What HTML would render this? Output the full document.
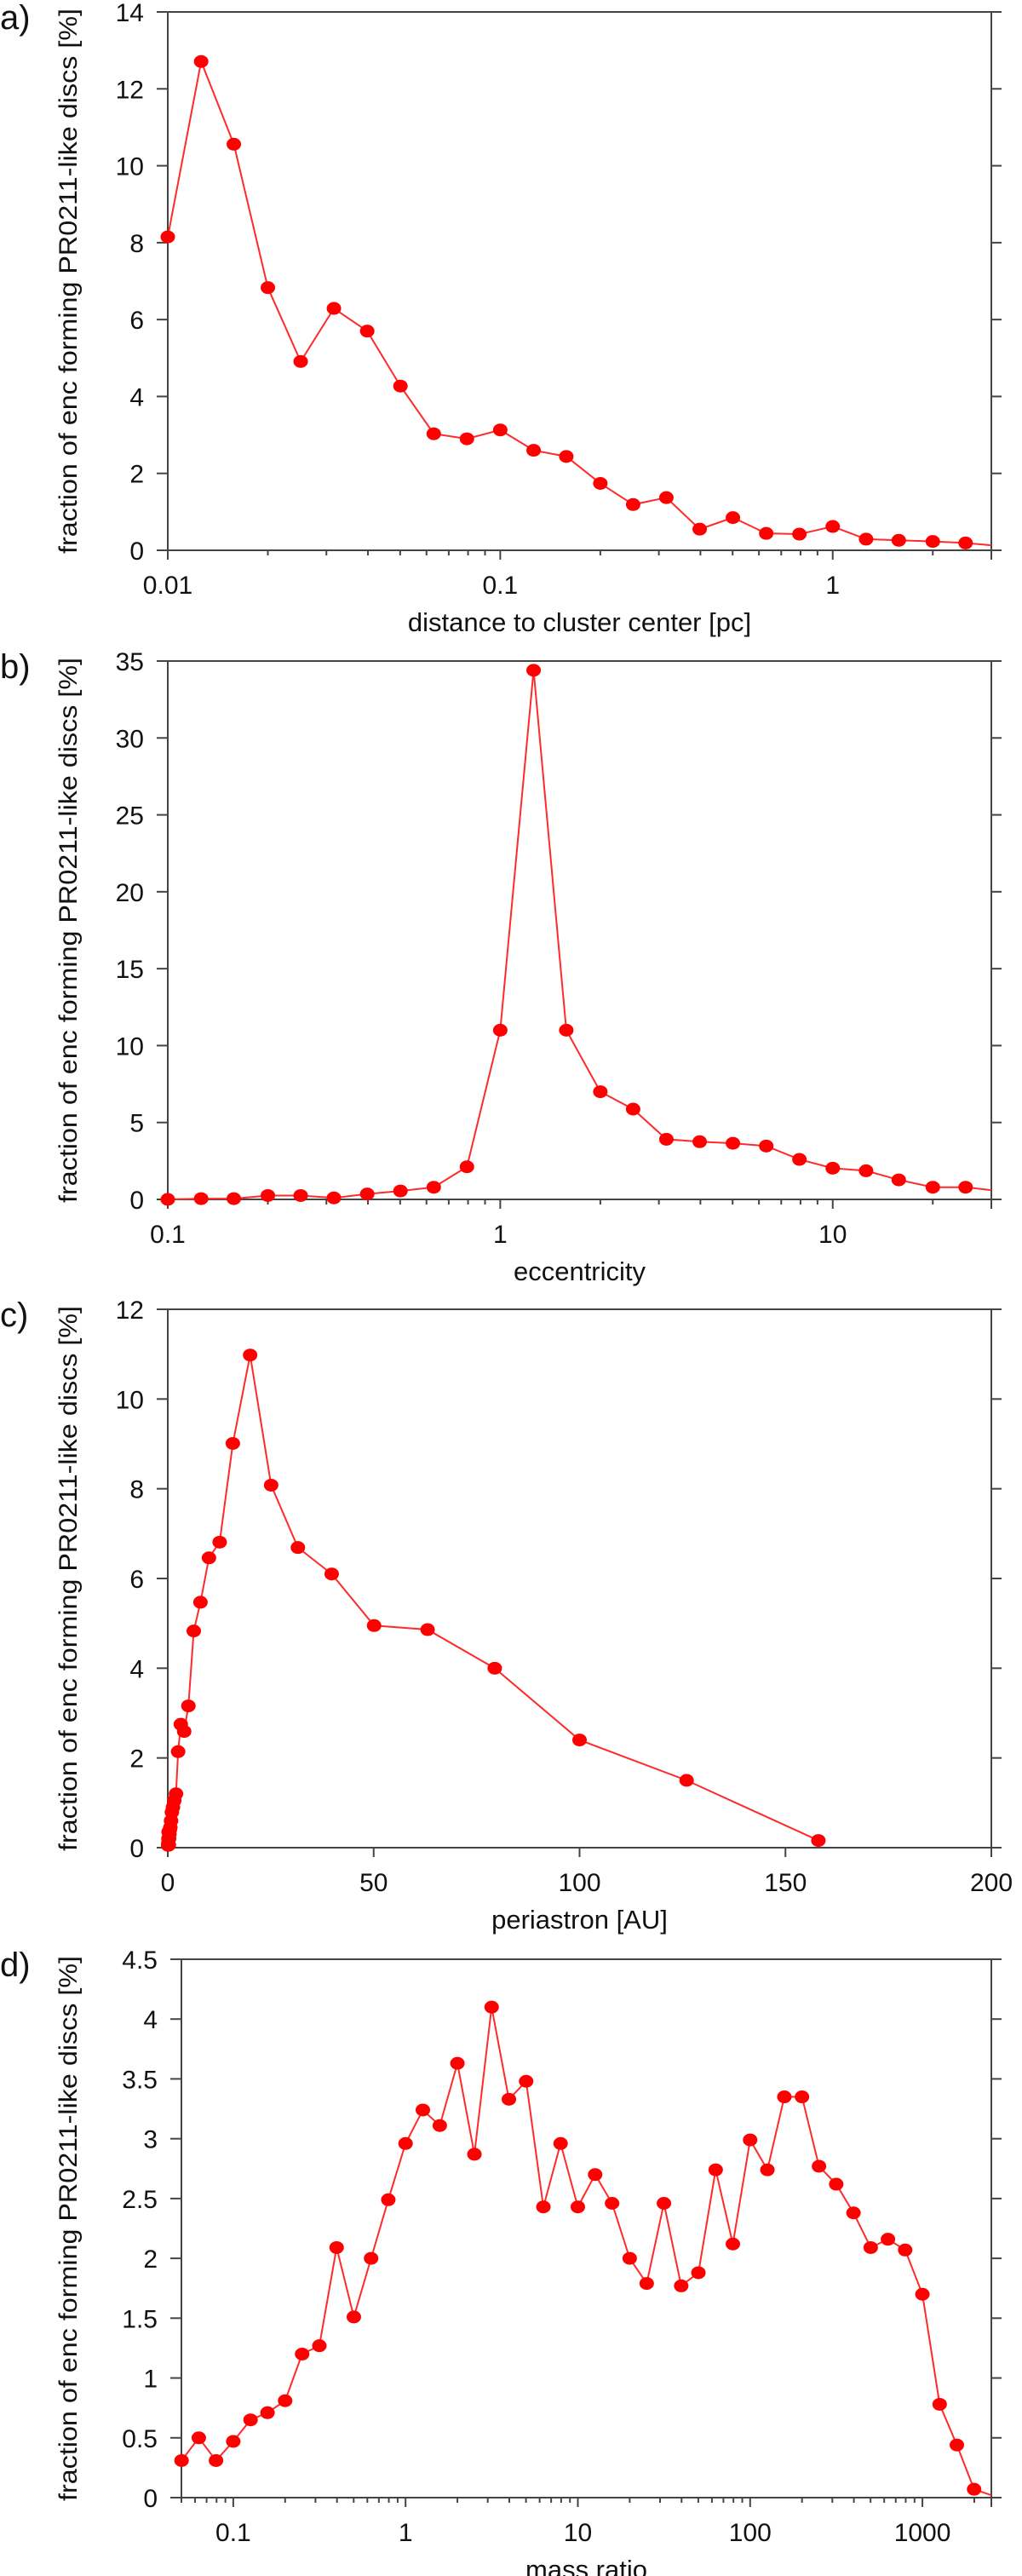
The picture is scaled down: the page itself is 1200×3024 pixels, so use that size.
<!DOCTYPE html>
<html><head><meta charset="utf-8"><style>
html,body{margin:0;padding:0;background:#fff;}
svg{display:block;font-family:"Liberation Sans",Arial,sans-serif;}
</style></head><body>
<svg id="fig" width="1200" height="3024" viewBox="0 0 1200 3024" xmlns="http://www.w3.org/2000/svg"></svg>
<script>
// Panel a: distance to cluster center
const aX = [0.01,0.0126,0.0158,0.02,0.0251,0.0316,0.0398,0.0501,0.0631,0.0794,0.1,0.126,0.158,0.2,0.251,0.316,0.398,0.501,0.631,0.794,1.0,1.26,1.58,2.0,2.51,3.0];
const aY = [8.15,12.71,10.56,6.83,4.91,6.29,5.70,4.27,3.03,2.90,3.13,2.60,2.44,1.74,1.19,1.37,0.55,0.85,0.44,0.42,0.62,0.29,0.26,0.23,0.19,0.13];
const aYTicks = [0,2,4,6,8,10,12,14];
const aXTicks = [0.01,0.1,1];
const aXTickLabels = ["0.01","0.1","1"];
// Panel b: eccentricity
const bX = [0.1,0.126,0.158,0.2,0.251,0.316,0.398,0.501,0.631,0.794,1.0,1.26,1.58,2.0,2.51,3.16,3.98,5.01,6.31,7.94,10,12.6,15.8,20,25.1,30];
const bY = [0,0.05,0.05,0.25,0.25,0.1,0.35,0.55,0.79,2.12,11.0,34.4,11.0,7.0,5.87,3.91,3.75,3.65,3.47,2.6,2.03,1.86,1.27,0.79,0.79,0.6];
const bYTicks = [0,5,10,15,20,25,30,35];
const bXTicks = [0.1,1,10];
const bXTickLabels = ["0.1","1","10"];
// Panel c: periastron
const cX = [0.1,0.126,0.158,0.2,0.251,0.316,0.398,0.501,0.631,0.794,1.0,1.26,1.58,2.0,2.51,3.16,3.98,5.01,6.31,7.94,10,12.6,15.8,20,25.1,31.6,39.8,50.1,63.1,79.4,100,126,158];
const cY = [0.05,0.1,0.2,0.35,0.06,0.2,0.3,0.4,0.45,0.6,0.79,0.9,1.05,1.2,2.14,2.75,2.59,3.16,4.83,5.47,6.46,6.81,9.01,10.98,8.08,6.69,6.10,4.95,4.86,4.0,2.40,1.50,0.16];
const cYTicks = [0,2,4,6,8,10,12];
const cXTicks = [0,50,100,150,200];
const cXTickLabels = ["0","50","100","150","200"];
// Panel d: mass ratio
const dX = [0.0501,0.0631,0.0794,0.1,0.126,0.158,0.2,0.251,0.316,0.398,0.501,0.631,0.794,1.0,1.26,1.58,2.0,2.51,3.16,3.98,5.01,6.31,7.94,10,12.6,15.8,20,25.1,31.6,39.8,50.1,63.1,79.4,100,126,158,200,251,316,398,501,631,794,1000,1259,1585,1995,2512];
const dY = [0.31,0.50,0.31,0.47,0.65,0.71,0.81,1.20,1.27,2.09,1.51,2.00,2.49,2.96,3.24,3.11,3.63,2.87,4.10,3.33,3.48,2.43,2.96,2.43,2.70,2.46,2.00,1.79,2.46,1.77,1.88,2.74,2.12,2.99,2.74,3.35,3.35,2.77,2.62,2.38,2.09,2.16,2.07,1.70,0.78,0.44,0.07,0.02];
const dYTicks = [0,0.5,1,1.5,2,2.5,3,3.5,4,4.5];
const dXTicks = [0.1,1,10,100,1000];
const dXTickLabels = ["0.1","1","10","100","1000"];

const NS = "http://www.w3.org/2000/svg";
const svg = document.getElementById('fig');
function mk(tag, attrs, parent){const e=document.createElementNS(NS,tag);for(const k in attrs)e.setAttribute(k,attrs[k]);(parent||svg).appendChild(e);return e;}

function panel(p){
  const g = mk('g',{});
  
  
  const L=p.left,R=1164,T=p.top,B=p.top+632;
  const sx = p.log ? (v=>L+(Math.log10(v)-Math.log10(p.xmin))/(Math.log10(p.xmax)-Math.log10(p.xmin))*(R-L))
                   : (v=>L+(v-p.xmin)/(p.xmax-p.xmin)*(R-L));
  const sy = v=>B-(v-p.ymin)/(p.ymax-p.ymin)*(B-T);
  const ax = mk('g',{stroke:'#444','stroke-width':2,fill:'none'},g);
  
  
  mk('rect',{x:L,y:T,width:R-L,height:B-T},ax);
  p.yt.forEach(v=>{
    const y=sy(v);
    mk('line',{x1:L-13,y1:y,x2:L,y2:y},ax);
    mk('line',{x1:R,y1:y,x2:R+12,y2:y},ax);
    const t=mk('text',{x:L-28,y:y+11,'text-anchor':'end','font-size':30,fill:'#111'},g);
    t.textContent=String(v);
    
    
  });
  if(p.log){
    const e0=Math.floor(Math.log10(p.xmin)), e1=Math.ceil(Math.log10(p.xmax));
    for(let e=e0;e<=e1;e++)for(let m=1;m<10;m++){
      const v=m*Math.pow(10,e); if(v<p.xmin*0.999||v>p.xmax*1.001)continue;
      const x=sx(v); mk('line',{x1:x,y1:B,x2:x,y2:B+(m===1?11:6)},ax);
    }
    mk('line',{x1:R,y1:B,x2:R,y2:B+11},ax);
  } else {
    p.xt.forEach(v=>{const x=sx(v);mk('line',{x1:x,y1:B,x2:x,y2:B+11},ax);});
  }
  p.xt.forEach((v,i)=>{
    const t=mk('text',{x:sx(v),y:B+51,'text-anchor':'middle','font-size':30,fill:'#111'},g);
    t.textContent=p.xl[i];
    
    
  });
  const pts=p.x.map((v,i)=>[sx(v),sy(p.y[i])]);
  const line=mk('polyline',{points:pts.map(q=>q.join(',')).join(' '),fill:'none',stroke:'#ff2a2a','stroke-width':2},g);
  
  
  const n = p.lastHidden ? pts.length-1 : pts.length;
  for(let i=0;i<n;i++){
    const c=mk('ellipse',{cx:pts[i][0],cy:pts[i][1],rx:8.5,ry:7.5,fill:'#ff0000'},g);
    
    
  }
  const yt=mk('text',{transform:`translate(${p.ylx},${(T+B)/2}) rotate(-90)`,'text-anchor':'middle','font-size':30,fill:'#111',textLength:640,lengthAdjust:'spacingAndGlyphs'},g);
  yt.textContent='fraction of enc forming PR0211-like discs [%]';
  
  
  const xt=mk('text',{x:(L+R)/2,y:B+95,'text-anchor':'middle','font-size':31,fill:'#111'},g);
  xt.textContent=p.xtitle;
  
  
  const pl=mk('text',{x:0,y:T+20,'font-size':40,fill:'#111'},g);
  pl.textContent=p.id+')';
  
  
}

panel({id:'a',top:14,left:197,log:true,xmin:0.01,xmax:3,ymin:0,ymax:14,x:aX,y:aY,yt:aYTicks,xt:aXTicks,xl:aXTickLabels,xtitle:'distance to cluster center [pc]',ylx:90,lastHidden:true});
panel({id:'b',top:776,left:197,log:true,xmin:0.1,xmax:30,ymin:0,ymax:35,x:bX,y:bY,yt:bYTicks,xt:bXTicks,xl:bXTickLabels,xtitle:'eccentricity',ylx:90,lastHidden:true});
panel({id:'c',top:1537,left:197,log:false,xmin:0,xmax:200,ymin:0,ymax:12,x:cX,y:cY,yt:cYTicks,xt:cXTicks,xl:cXTickLabels,xtitle:'periastron [AU]',ylx:90,lastHidden:false});
panel({id:'d',top:2300,left:213,log:true,xmin:0.05,xmax:2512,ymin:0,ymax:4.5,x:dX,y:dY,yt:dYTicks,xt:dXTicks,xl:dXTickLabels,xtitle:'mass ratio',ylx:90,lastHidden:true});
</script>
</body></html>
